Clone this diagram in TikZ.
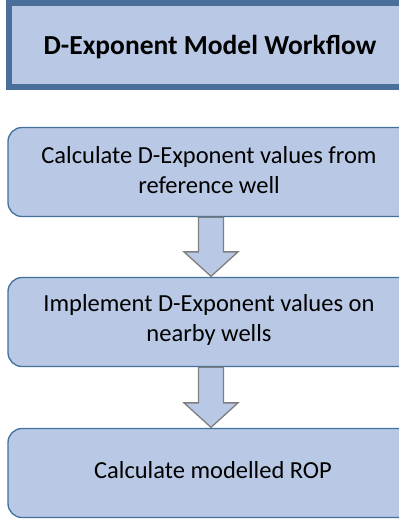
\documentclass[tikz,border=0pt]{standalone}
\usepackage{fontspec}
\setmainfont{Carlito}
\usetikzlibrary{calc}

\definecolor{boxfill}{HTML}{B9C9E5}
\definecolor{titleline}{HTML}{4A6F9A}
\definecolor{boxline}{HTML}{41719C}
\definecolor{arrowline}{HTML}{7F7F7F}

\tikzset{
	titlebox/.style={draw=titleline, line width=6pt, fill=boxfill, minimum width=406pt, minimum height=84pt, inner sep=0pt},
	stepbox/.style={draw=boxline, line width=1.3pt, fill=boxfill, rounded corners=14pt, minimum width=406pt, minimum height=89pt, inner sep=0pt},
	steptext/.style={align=center, font=\fontsize{24.5}{30}\selectfont},
	blockarrow/.style={draw=arrowline, line width=1.3pt, fill=boxfill, line join=miter},
}

% block arrow from the bottom of one box to the top of the next
\newcommand{\flowarrow}[2]{%
	\draw[blockarrow] let \p1=(#1.south), \p2=(#2.north) in
		($(\x1,\y1)+(-12.5pt,0)$) -- ($(\x1,\y1)+(12.5pt,0)$) -- ($(\x1,\y2)+(12.5pt,25pt)$)
		-- ($(\x1,\y2)+(27pt,25pt)$) -- ($(\x1,\y2)+(0,0.5pt)$) -- ($(\x1,\y2)+(-27pt,25pt)$)
		-- ($(\x1,\y2)+(-12.5pt,25pt)$) -- cycle;}

\begin{document}
\begin{tikzpicture}[x=1pt, y=-1pt]
	\useasboundingbox (0, 0) rectangle (399, 520);
	% Title and steps:
	\node[titlebox] (title) at (212, 44.5){};
	\node[font=\fontsize{27.5}{32}\selectfont\bfseries] (titletext) at (210, 47){D-Exponent Model Workflow};
	\node[stepbox] (calcd) at (211, 172){};
	\node[steptext] (calcdtext) at (209, 170){Calculate D-Exponent values from\\reference well};
	\node[stepbox] (implement) at (211, 322){};
	\node[steptext] (implementtext) at (209, 320){Implement D-Exponent values on\\nearby wells};
	\node[stepbox] (calcrop) at (211, 473){};
	\node[steptext] (calcroptext) at (213, 470){Calculate modelled ROP};
	% Arrows:
	\flowarrow{calcd}{implement}
	\flowarrow{implement}{calcrop}
\end{tikzpicture}
\end{document}
